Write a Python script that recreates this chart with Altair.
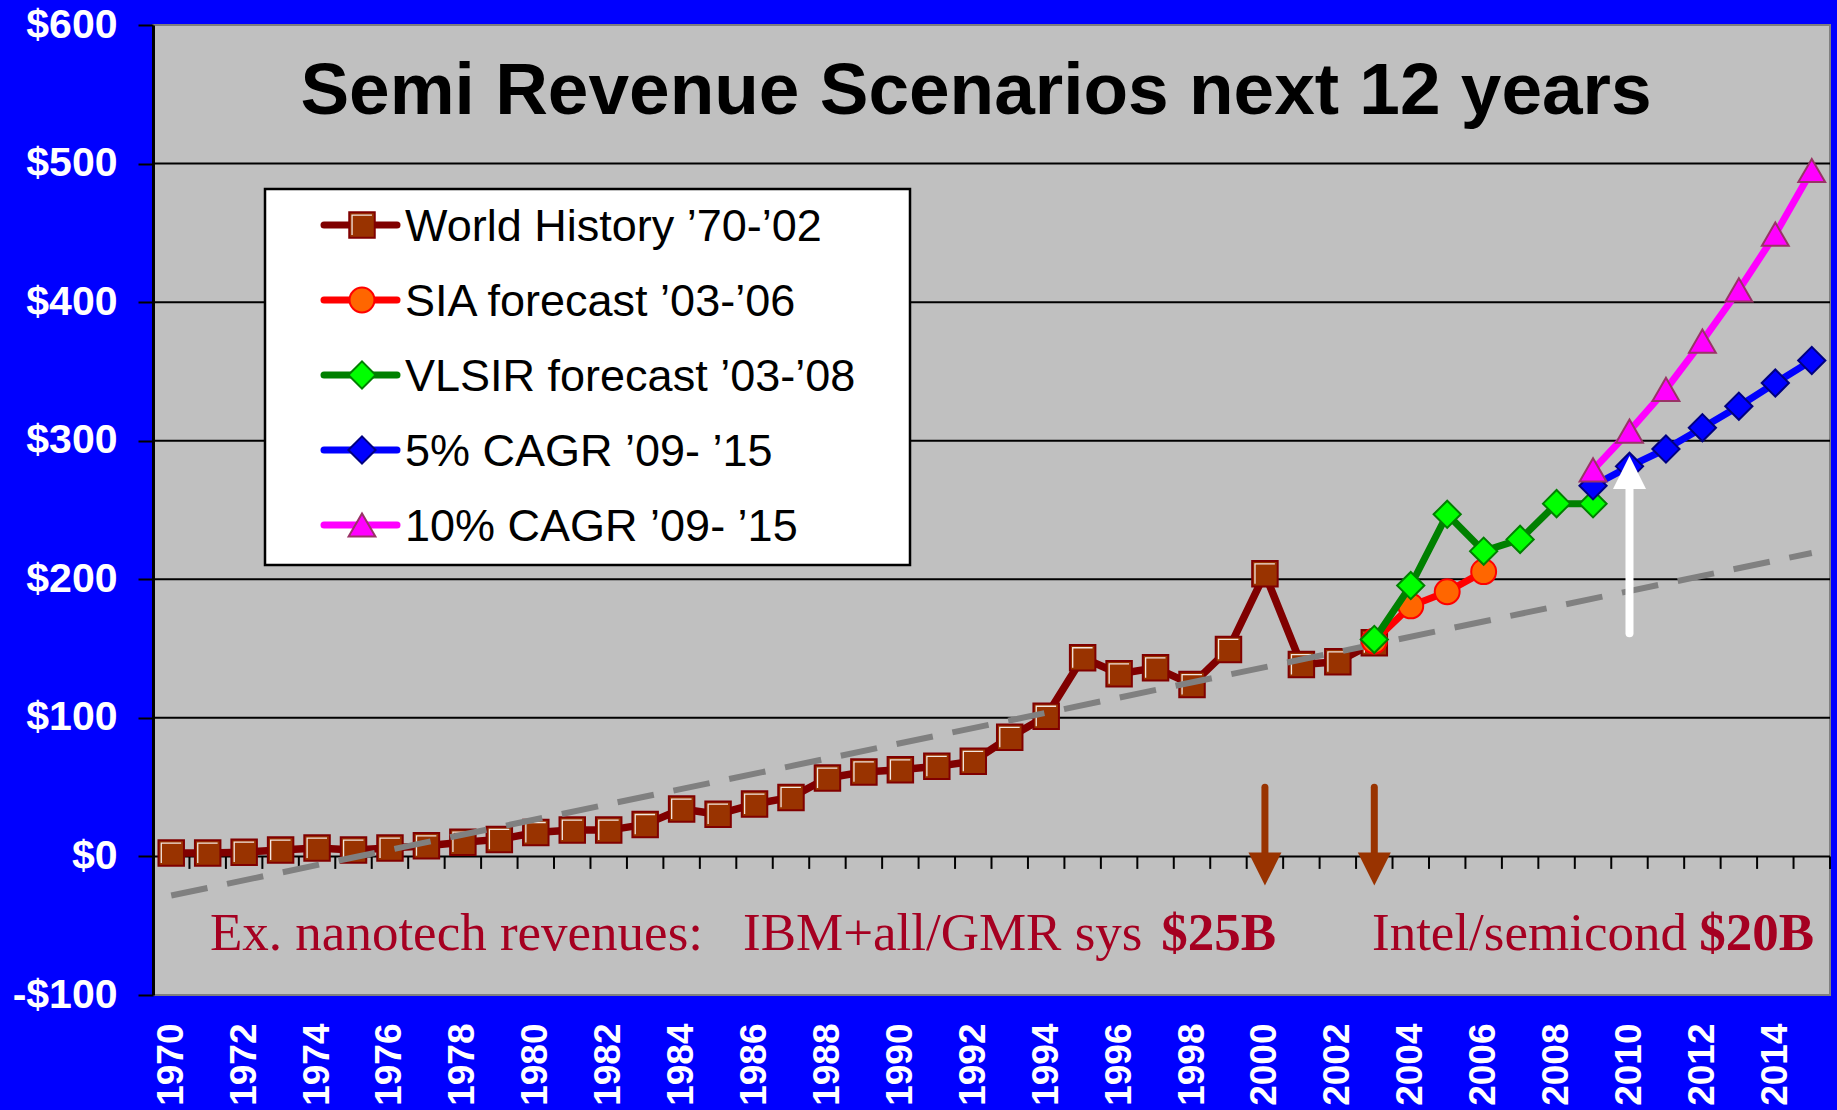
import altair as alt
import pandas as pd

# ---------------- data ----------------
hist_years = list(range(1970, 2004))
hist_values = [2.4, 2.4, 3.1, 4.6, 6.0, 4.6, 6.0, 7.7, 10.3, 12.3,
               17.3, 19.0, 19.0, 23.1, 34.2, 30.5, 37.8, 42.6, 56.6, 61.0,
               62.5, 65.0, 68.7, 86.0, 101.2, 143.4, 131.8, 136.1, 124.0, 149.4,
               204.0, 138.5, 140.5, 154.2]
sia_years = [2003, 2004, 2005, 2006]
sia_values = [155.5, 180.8, 191.0, 205.5]
vlsir_years = [2003, 2004, 2005, 2006, 2007, 2008, 2009]
vlsir_values = [156.6, 195.5, 246.9, 220.3, 228.8, 254.6, 254.5]
cagr_years = [2009, 2010, 2011, 2012, 2013, 2014, 2015]
cagr5_values = [267.5, 281.5, 294.0, 309.4, 324.9, 341.6, 357.9]
cagr10_values = [279.0, 307.0, 337.0, 371.9, 408.8, 449.0, 495.0]
trend_years = [1970, 2015]
trend_values = [-28.2, 219.0]

series_names = ["World History \u201970-\u201902", "SIA forecast \u201903-\u201906",
                "VLSIR forecast \u201903-\u201908", "5% CAGR \u201909- \u201915",
                "10% CAGR \u201909- \u201915"]
x_label_years = list(range(1970, 2015, 2))
y_tick_values = [-100, 0, 100, 200, 300, 400, 500, 600]
grid_values = [0, 100, 200, 300, 400, 500]

title_text = "Semi Revenue Scenarios next 12 years"
note_1 = "Ex. nanotech revenues:"
note_2 = "IBM+all/GMR sys"
note_2b = "$25B"
note_3 = "Intel/semicond"
note_3b = "$20B"

down_arrow_years = [2000, 2003]
down_arrow_top = 50
down_arrow_tip = -21
up_arrow_year = [2010]
up_arrow_bottom = 161
up_arrow_tip = 289

# ---------------- styles ----------------
styles = [
    dict(line="#800000", fill="#993300", stroke="#800000", shape="square", size=650),
    dict(line="#FF0000", fill="#FF6600", stroke="#FF0000", shape="circle", size=620),
    dict(line="#008000", fill="#00FF00", stroke="#008000", shape="diamond", size=740),
    dict(line="#0000FF", fill="#0000FF", stroke="#000080", shape="diamond", size=740),
    dict(line="#FF00FF", fill="#FF00FF", stroke="#993366", shape="triangle-up", size=720),
]
highlight_shape = "M-0.78,0.78L-0.78,-0.78L0.78,-0.78"

W, H = 1677, 970
XMIN, XMAX = 1969.5, 2015.5
xscale = alt.Scale(domain=[XMIN, XMAX], nice=False, zero=False)
yscale = alt.Scale(domain=[-100, 600], nice=False, zero=False)

xaxis = alt.Axis(values=x_label_years, format="d", labelAngle=270, labelAlign="right",
                 labelBaseline="middle", labelFont="Liberation Sans", labelFontSize=37,
                 labelFontWeight="bold", labelColor="white", labelPadding=28,
                 ticks=False, tickSize=0, domain=False, grid=False, title=None,
                 labelFlush=False, labelOverlap=False)
yaxis = alt.Axis(values=y_tick_values,
                 labelExpr="datum.value < 0 ? '-$' + (-datum.value) : '$' + datum.value",
                 labelFont="Liberation Sans", labelFontSize=41, labelFontWeight="bold",
                 labelColor="white", labelPadding=21, tickColor="black", tickSize=15,
                 tickWidth=2, domainColor="black", domainWidth=3, grid=False, title=None,
                 labelFlush=False, labelOverlap=False)


def X(field):
    return alt.X(field, type="quantitative", scale=xscale, axis=xaxis)


def Y(field):
    return alt.Y(field, type="quantitative", scale=yscale, axis=yaxis)


layers = []

# gridlines
grid_df = pd.DataFrame({"v": grid_values})
layers.append(alt.Chart(grid_df).mark_rule(color="black", strokeWidth=2).encode(y=Y("v")))

# category tick marks below the $0 line
tick_df = pd.DataFrame({"t": [y + 0.5 for y in range(1970, 2016)]})
tick_df["y0"] = 0
tick_df["y1"] = -9
layers.append(alt.Chart(tick_df).mark_rule(color="black", strokeWidth=2).encode(
    x=X("t"), y=Y("y0"), y2="y1"))

series_data = [
    (hist_years, hist_values),
    (sia_years, sia_values),
    (vlsir_years, vlsir_values),
    (cagr_years, cagr5_values),
    (cagr_years, cagr10_values),
]

trend_df = pd.DataFrame({"year": trend_years, "value": trend_values})
trend_layer = alt.Chart(trend_df).mark_line(color="#808080", strokeWidth=6,
                                            strokeDash=[37, 20], strokeCap="butt").encode(
    x=X("year"), y=Y("value"))

for i, ((yrs, vals), st) in enumerate(zip(series_data, styles)):
    df = pd.DataFrame({"year": yrs, "value": vals})
    layers.append(alt.Chart(df).mark_line(color=st["line"], strokeWidth=7.5 if i == 0 else 7,
                                          strokeJoin="round", strokeCap="round").encode(
        x=X("year"), y=Y("value")))
    layers.append(alt.Chart(df).mark_point(shape=st["shape"], filled=True, fill=st["fill"],
                                           stroke=st["stroke"], strokeWidth=2,
                                           size=st["size"], opacity=1).encode(
        x=X("year"), y=Y("value")))
    if i == 0:
        layers.append(alt.Chart(df).mark_point(shape=highlight_shape, filled=False,
                                               stroke="#F2E6E0", strokeWidth=1.3,
                                               size=st["size"], opacity=1).encode(
            x=X("year"), y=Y("value")))
        layers.append(trend_layer)

# arrows
down_df = pd.DataFrame({"year": down_arrow_years})
down_df["top"] = down_arrow_top
down_df["tip"] = down_arrow_tip
down_df["base"] = down_arrow_tip + 12
layers.append(alt.Chart(down_df).mark_rule(color="#993300", strokeWidth=7,
                                           strokeCap="round").encode(
    x=X("year"), y=Y("top"), y2="base"))
layers.append(alt.Chart(down_df).mark_point(shape="M-1,-2L1,-2L0,0Z", filled=True,
                                            fill="#993300", strokeWidth=0, size=1089,
                                            opacity=1).encode(
    x=X("year"), y=Y("tip")))

up_df = pd.DataFrame({"year": up_arrow_year})
up_df["bottom"] = up_arrow_bottom
up_df["tip"] = up_arrow_tip
up_df["base"] = up_arrow_tip - 12
layers.append(alt.Chart(up_df).mark_rule(color="white", strokeWidth=8,
                                         strokeCap="round").encode(
    x=X("year"), y=Y("bottom"), y2="base"))
layers.append(alt.Chart(up_df).mark_point(shape="M-1,2L1,2L0,0Z", filled=True,
                                          fill="white", strokeWidth=0, size=1089,
                                          opacity=1).encode(
    x=X("year"), y=Y("tip")))

# legend (drawn by hand)
one = pd.DataFrame({"a": [0]})
layers.append(alt.Chart(one).mark_rect(fill="white", stroke="black", strokeWidth=2.5).encode(
    x=alt.value(112), x2=alt.value(757), y=alt.value(164), y2=alt.value(540)))
for i, (name, st) in enumerate(zip(series_names, styles)):
    cy = 200 + 75 * i
    layers.append(alt.Chart(one).mark_rule(color=st["line"], strokeWidth=7,
                                           strokeCap="round").encode(
        x=alt.value(171), x2=alt.value(244), y=alt.value(cy)))
    layers.append(alt.Chart(one).mark_point(shape=st["shape"], filled=True, fill=st["fill"],
                                            stroke=st["stroke"], strokeWidth=2,
                                            size=st["size"], opacity=1).encode(
        x=alt.value(209), y=alt.value(cy)))
    if i == 0:
        layers.append(alt.Chart(one).mark_point(shape=highlight_shape, filled=False,
                                                stroke="#F2E6E0", strokeWidth=1.3,
                                                size=st["size"], opacity=1).encode(
            x=alt.value(209), y=alt.value(cy)))
    layers.append(alt.Chart(one).mark_text(text=name, align="left", baseline="alphabetic",
                                           font="Liberation Sans", fontSize=45,
                                           color="black").encode(
        x=alt.value(252), y=alt.value(cy + 16)))

# title
layers.append(alt.Chart(one).mark_text(text=title_text, align="center", baseline="alphabetic",
                                       font="Liberation Sans", fontSize=73,
                                       fontWeight="bold", color="black").encode(
    x=alt.value(823), y=alt.value(89)))

# annotations
note_color = "#A50021"
for txt, px, al, wt in [(note_1, 57, "left", "normal"), (note_2, 590, "left", "normal"),
                        (note_2b, 1123, "right", "bold"), (note_3, 1219, "left", "normal"),
                        (note_3b, 1661, "right", "bold")]:
    layers.append(alt.Chart(one).mark_text(text=txt, align=al, baseline="alphabetic",
                                           font="Liberation Serif", fontSize=53,
                                           fontWeight=wt, color=note_color).encode(
        x=alt.value(px), y=alt.value(925)))

chart = alt.layer(*layers).properties(
    width=W, height=H,
    autosize=alt.AutoSizeParams(type="none"),
    padding={"left": 153, "top": 25, "right": 7, "bottom": 115},
    background="#0000FF",
).configure_view(fill="#C0C0C0", stroke="#808080", strokeWidth=2)

chart.save("out.html", embed_options={"renderer": "svg", "actions": False})
